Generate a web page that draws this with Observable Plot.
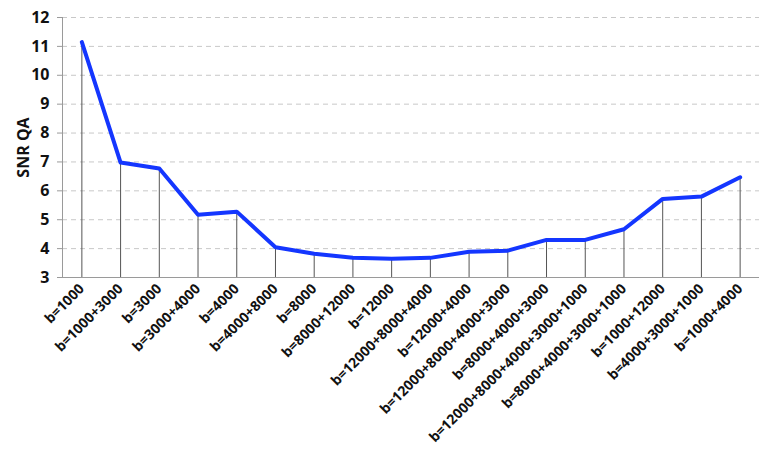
<!DOCTYPE html>
<html>
<head>
<meta charset="utf-8">
<script src="https://cdn.jsdelivr.net/npm/d3@7"></script>
<script src="https://cdn.jsdelivr.net/npm/@observablehq/plot@0.6"></script>
<style>
  html, body { margin: 0; padding: 0; background: #fff; }
  #chart svg { display: block; }
</style>
</head>
<body>
<div id="chart"></div>
<script>
const categories = [
  "b=1000", "b=1000+3000", "b=3000", "b=3000+4000", "b=4000", "b=4000+8000",
  "b=8000", "b=8000+12000", "b=12000", "b=12000+8000+4000", "b=12000+4000",
  "b=12000+8000+4000+3000", "b=8000+4000+3000", "b=12000+8000+4000+3000+1000",
  "b=8000+4000+3000+1000", "b=1000+12000", "b=4000+3000+1000", "b=1000+4000"
];
const snrValues = [
  11.15, 6.98, 6.77, 5.17, 5.28, 4.05,
  3.82, 3.68, 3.65, 3.68, 3.89,
  3.93, 4.30, 4.30,
  4.67, 5.72, 5.80, 6.47
];
const yTicks = [3, 4, 5, 6, 7, 8, 9, 10, 11, 12];

const data = categories.map((c, i) => ({ cat: c, snr: snrValues[i] }));

const chart = Plot.plot({
  width: 770,
  height: 458,
  marginLeft: 62,
  marginRight: 11,
  marginTop: 17,
  marginBottom: 181,
  style: { fontFamily: "'Open Sans', Lato, sans-serif", fontWeight: "bold", color: "#111", background: "#fff" },
  x: { type: "point", domain: categories, padding: 0.5, round: false },
  y: { domain: [3, 12] },
  marks: [
    Plot.gridY(yTicks, { stroke: "#c8c8c8", strokeOpacity: 1, strokeDasharray: "5,4" }),
    Plot.frame({ anchor: "left", stroke: "#9a9a9a" }),
    Plot.ruleY([3], { stroke: "#9a9a9a" }),
    Plot.ruleX(data, { x: "cat", y1: 3, y2: "snr", stroke: "#555", strokeWidth: 1 }),
    Plot.axisY(yTicks, {
      tickSize: 5, tickPadding: 8, fontSize: 16, stroke: "#9a9a9a",
      label: "SNR QA", labelAnchor: "center", labelArrow: "none", labelOffset: 45
    }),
    Plot.axisX({
      tickSize: 0, tickRotate: -45, tickPadding: 9, fontSize: 14, label: null
    }),
    Plot.line(data, { x: "cat", y: "snr", stroke: "#1436ff", strokeWidth: 4, strokeLinejoin: "round" })
  ]
});
document.getElementById("chart").append(chart);
</script>
</body>
</html>
